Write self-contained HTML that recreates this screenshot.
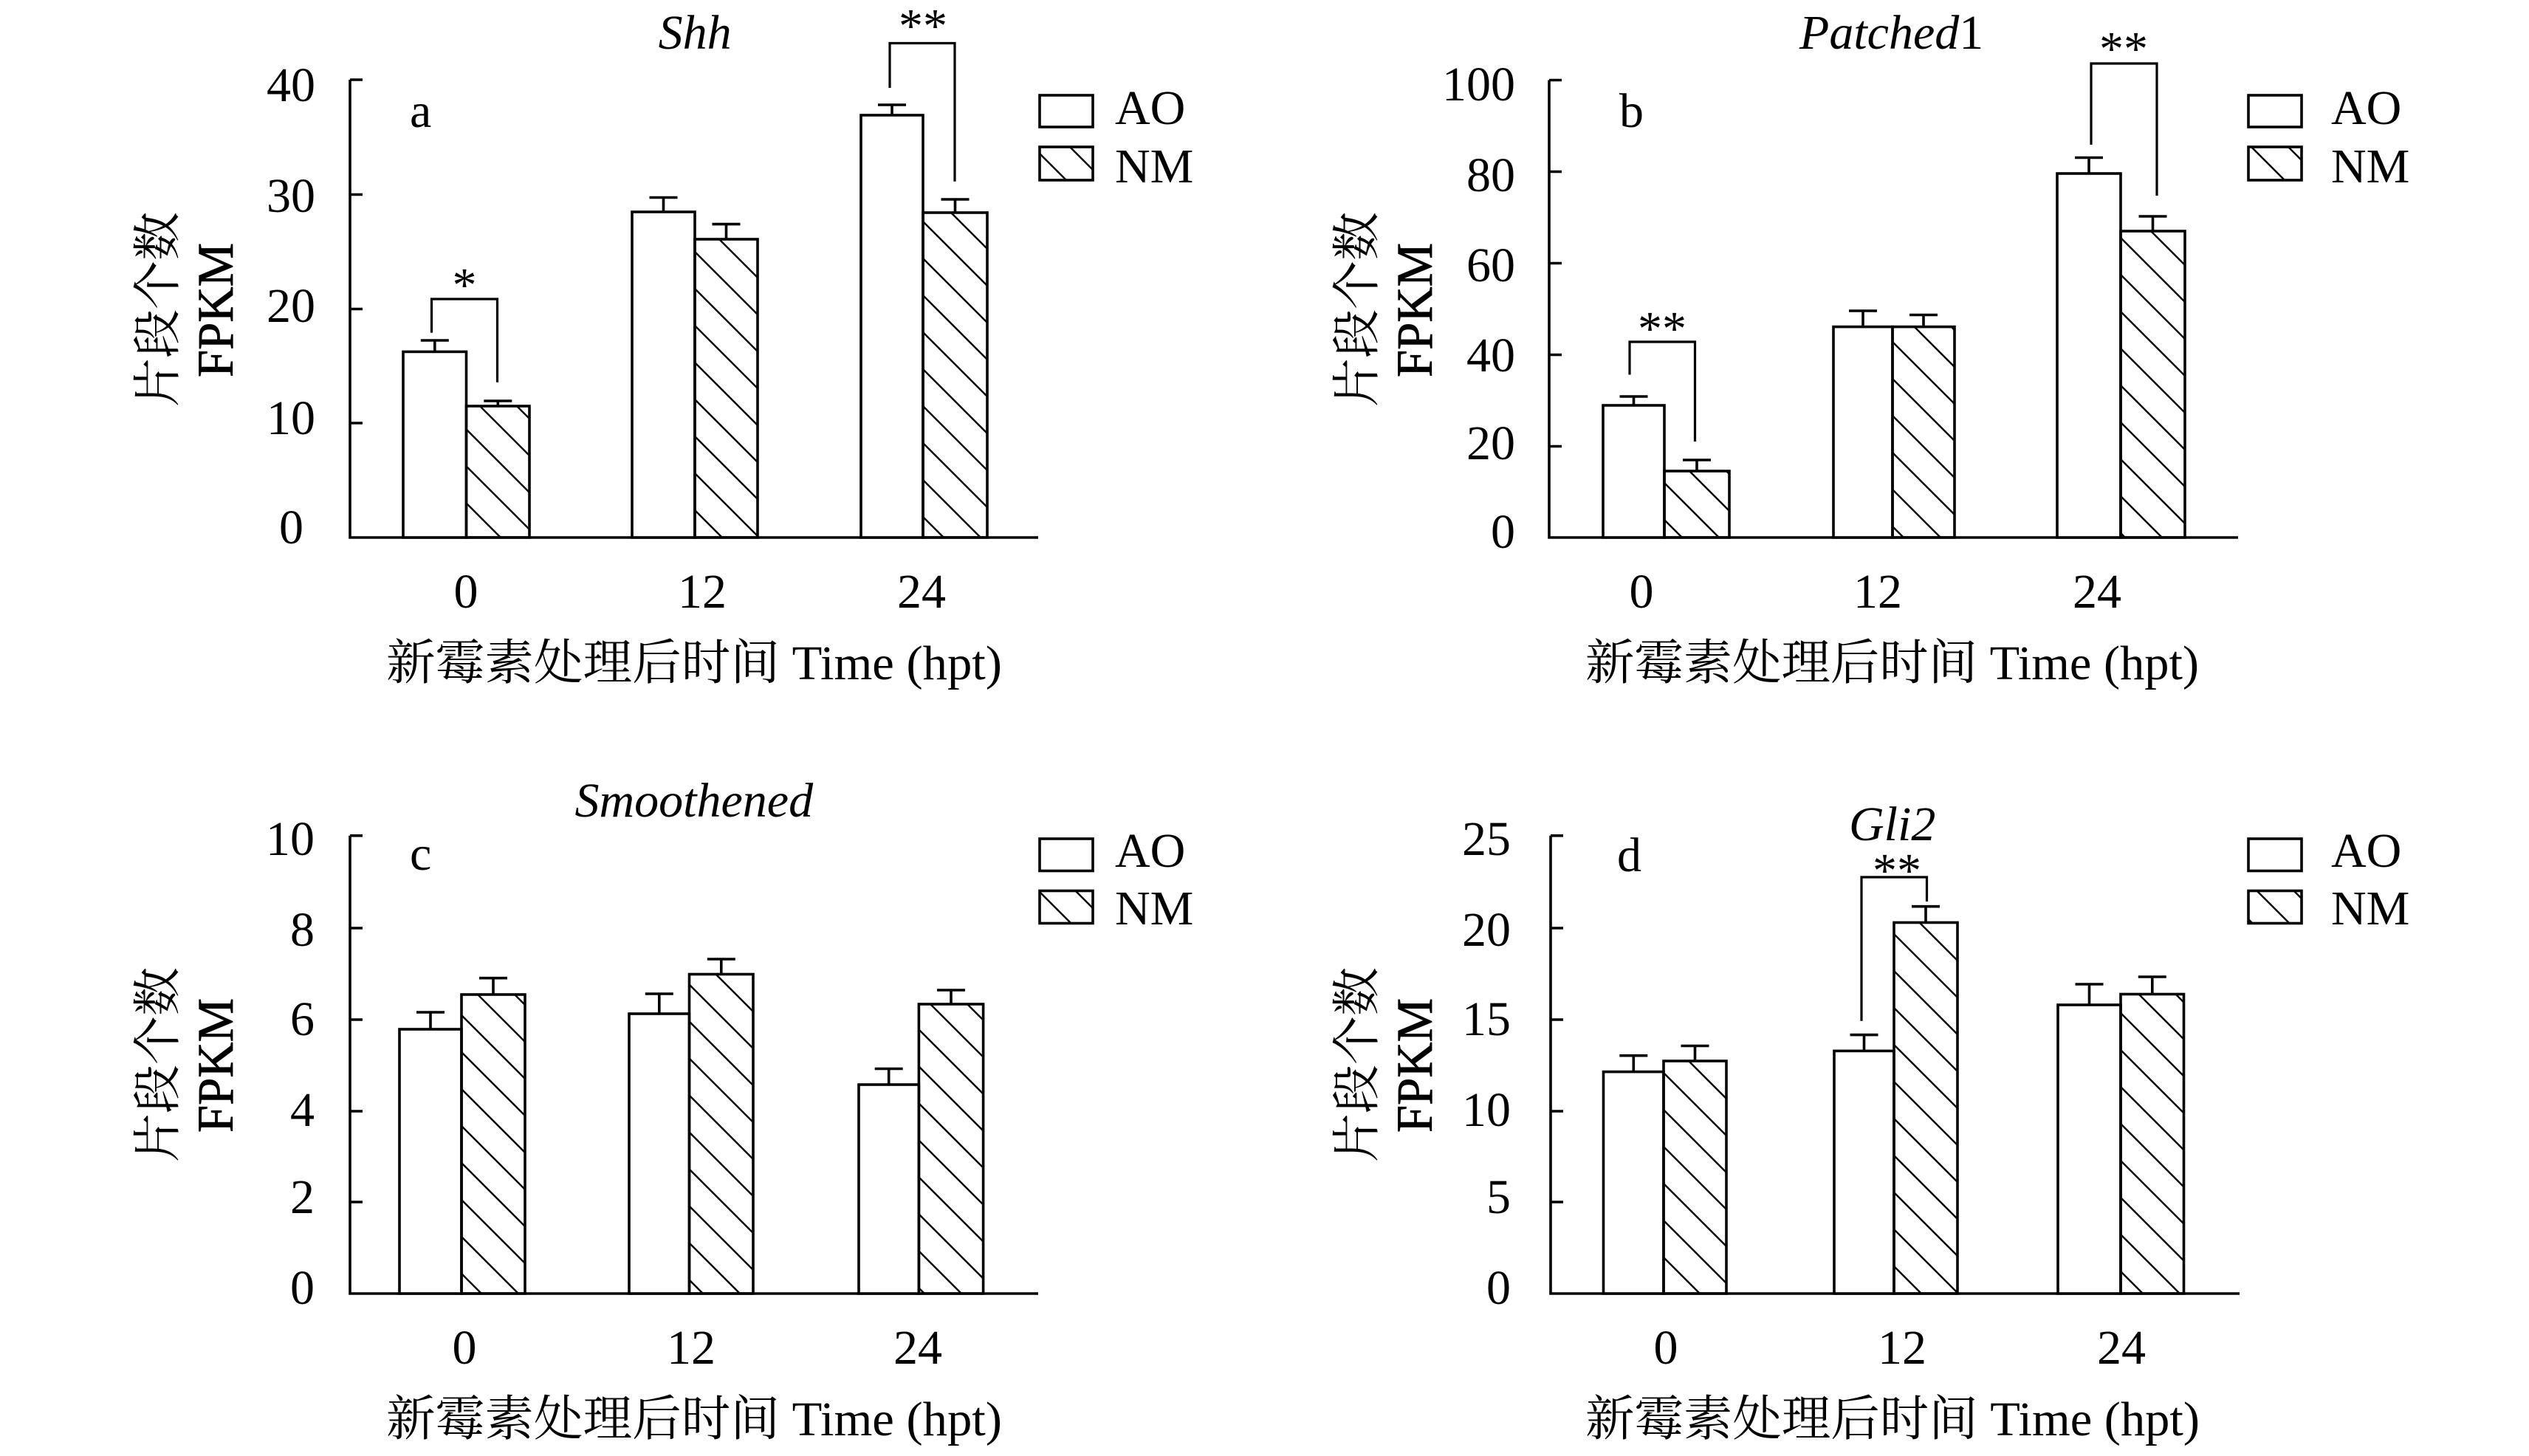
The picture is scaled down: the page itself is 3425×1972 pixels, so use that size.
<!DOCTYPE html>
<html><head><meta charset="utf-8"><style>
html,body{margin:0;padding:0;background:#fff;}
svg{display:block;}
text{font-family:"Liberation Serif","Noto Serif CJK SC",serif;fill:#000;}
</style></head><body>
<svg width="3425" height="1972" viewBox="0 0 3425 1972" xmlns="http://www.w3.org/2000/svg">
<defs>
<pattern id="h" patternUnits="userSpaceOnUse" width="50" height="50">
<path d="M-10,-10 L60,60 M-10,40 L10,60 M40,-10 L60,10" stroke="#000" stroke-width="2.4" fill="none"/>
</pattern>
</defs>
<rect width="3425" height="1972" fill="#fff"/>

<g stroke="#000" stroke-width="3.6" fill="none">
<!-- ===== Panel a ===== -->
<path d="M474,108 V728 H1406"/>
<path d="M474,108 h17 M474,263.5 h17 M474,418.5 h17 M474,573 h17"/>
<rect x="546" y="476.4" width="85.5" height="251.6" fill="#fff"/>
<rect x="631.5" y="550" width="85.5" height="178" fill="url(#h)"/>
<rect x="856" y="287" width="85" height="441" fill="#fff"/>
<rect x="941" y="324" width="85" height="404" fill="url(#h)"/>
<rect x="1166" y="156" width="84" height="572" fill="#fff"/>
<rect x="1250" y="288" width="87" height="440" fill="url(#h)"/>
<path d="M588.8,476.4 V461 M569.8,461 h38"/>
<path d="M674.3,550 V543 M655.3,543 h38"/>
<path d="M898.5,287 V267.5 M879.5,267.5 h38"/>
<path d="M983.5,324 V303.6 M964.5,303.6 h38"/>
<path d="M1208,156 V142 M1189,142 h38"/>
<path d="M1293.5,288 V270 M1274.5,270 h38"/>
<path d="M584.5,450.6 V405 H673.5 V517.7" stroke-width="3.2"/>
<path d="M1205,119 V58.5 H1293 V245.7" stroke-width="3.2"/>
<rect x="1408" y="129" width="72" height="43" fill="#fff"/>
<rect x="1408" y="199" width="72" height="45" fill="url(#h)"/>

<!-- ===== Panel b ===== -->
<path d="M2098,108.5 V728 H3031"/>
<path d="M2098,108.5 h17 M2098,232.5 h17 M2098,356.5 h17 M2098,480.5 h17 M2098,604.5 h17"/>
<rect x="2171" y="549" width="83" height="179" fill="#fff"/>
<rect x="2254" y="638" width="88" height="90" fill="url(#h)"/>
<rect x="2483" y="442.6" width="80" height="285.4" fill="#fff"/>
<rect x="2563" y="442.6" width="84" height="285.4" fill="url(#h)"/>
<rect x="2786" y="235" width="86" height="493" fill="#fff"/>
<rect x="2872" y="313" width="87" height="415" fill="url(#h)"/>
<path d="M2212.5,549 V537 M2193.5,537 h38"/>
<path d="M2298,638 V623 M2279,623 h38"/>
<path d="M2523,442.6 V421 M2504,421 h38"/>
<path d="M2605,442.6 V426.5 M2586,426.5 h38"/>
<path d="M2829,235 V213.5 M2810,213.5 h38"/>
<path d="M2915.5,313 V293 M2896.5,293 h38"/>
<path d="M2207,507.5 V463 H2295.5 V598" stroke-width="3.2"/>
<path d="M2832,196 V86 H2921 V265" stroke-width="3.2"/>
<rect x="3045" y="129" width="72" height="43" fill="#fff"/>
<rect x="3045" y="199" width="72" height="45" fill="url(#h)"/>

<!-- ===== Panel c ===== -->
<path d="M474,1131.8 V1752 H1406"/>
<path d="M474,1131.8 h17 M474,1257 h17 M474,1381 h17 M474,1505 h17 M474,1628 h17"/>
<rect x="541" y="1394" width="84" height="358" fill="#fff"/>
<rect x="625" y="1347" width="86" height="405" fill="url(#h)"/>
<rect x="852" y="1373" width="81.5" height="379" fill="#fff"/>
<rect x="933.5" y="1319.5" width="86.5" height="432.5" fill="url(#h)"/>
<rect x="1163" y="1469" width="81.4" height="283" fill="#fff"/>
<rect x="1244.4" y="1360" width="87.2" height="392" fill="url(#h)"/>
<path d="M583,1394 V1371 M564,1371 h38"/>
<path d="M668,1347 V1324.7 M649,1324.7 h38"/>
<path d="M892.8,1373 V1346 M873.8,1346 h38"/>
<path d="M976.8,1319.5 V1299 M957.8,1299 h38"/>
<path d="M1203.7,1469 V1447.5 M1184.7,1447.5 h38"/>
<path d="M1288,1360 V1341 M1269,1341 h38"/>
<rect x="1408" y="1136" width="72" height="43.5" fill="#fff"/>
<rect x="1408" y="1206.5" width="72" height="44" fill="url(#h)"/>

<!-- ===== Panel d ===== -->
<path d="M2100,1131.8 V1752 H3033"/>
<path d="M2100,1131.8 h17 M2100,1257 h17 M2100,1381 h17 M2100,1505 h17 M2100,1628 h17"/>
<rect x="2171.5" y="1451.6" width="81.5" height="300.4" fill="#fff"/>
<rect x="2253" y="1437" width="85" height="315" fill="url(#h)"/>
<rect x="2484" y="1423.4" width="81" height="328.6" fill="#fff"/>
<rect x="2565" y="1249.5" width="86" height="502.5" fill="url(#h)"/>
<rect x="2787" y="1361" width="85" height="391" fill="#fff"/>
<rect x="2872" y="1346.5" width="85.5" height="405.5" fill="url(#h)"/>
<path d="M2212.3,1451.6 V1429.7 M2193.3,1429.7 h38"/>
<path d="M2295.5,1437 V1416.5 M2276.5,1416.5 h38"/>
<path d="M2524.5,1423.4 V1401.6 M2505.5,1401.6 h38"/>
<path d="M2608,1249.5 V1227.7 M2589,1227.7 h38"/>
<path d="M2829.5,1361 V1333 M2810.5,1333 h38"/>
<path d="M2914.8,1346.5 V1323 M2895.8,1323 h38"/>
<path d="M2521,1382.7 V1188 H2609.5 V1221" stroke-width="3.2"/>
<rect x="3045" y="1136" width="72" height="43.5" fill="#fff"/>
<rect x="3045" y="1206.5" width="72" height="44" fill="url(#h)"/>
</g>

<g font-size="66">
<!-- Panel a text -->
<text x="891.6" y="66" font-style="italic">Shh</text>
<text x="555" y="172">a</text>
<text x="427" y="137" text-anchor="end">40</text>
<text x="427" y="287" text-anchor="end">30</text>
<text x="427" y="436" text-anchor="end">20</text>
<text x="427" y="588" text-anchor="end">10</text>
<text x="394.5" y="736" text-anchor="middle">0</text>
<text x="631" y="823" text-anchor="middle">0</text>
<text x="951" y="823" text-anchor="middle">12</text>
<text x="1248" y="823" text-anchor="middle">24</text>
<text x="523" y="920" textLength="834" lengthAdjust="spacingAndGlyphs">新霉素处理后时间 Time (hpt)</text>
<text transform="translate(236,419) rotate(-90)" text-anchor="middle">片段个数</text>
<text transform="translate(315,420) rotate(-90)" text-anchor="middle" font-size="69" textLength="182" lengthAdjust="spacingAndGlyphs" stroke="#000" stroke-width="0.8">FPKM</text>
<text x="629" y="408" text-anchor="middle">*</text>
<text x="1250" y="57" text-anchor="middle">**</text>
<text x="1510" y="168">AO</text>
<text x="1510" y="247">NM</text>

<!-- Panel b text -->
<text x="2437" y="66"><tspan font-style="italic">Patched</tspan>1</text>
<text x="2193" y="172">b</text>
<text x="2052" y="136" text-anchor="end">100</text>
<text x="2052" y="259" text-anchor="end">80</text>
<text x="2052" y="381" text-anchor="end">60</text>
<text x="2052" y="503" text-anchor="end">40</text>
<text x="2052" y="622" text-anchor="end">20</text>
<text x="2052" y="742" text-anchor="end">0</text>
<text x="2223" y="823" text-anchor="middle">0</text>
<text x="2543" y="823" text-anchor="middle">12</text>
<text x="2840" y="823" text-anchor="middle">24</text>
<text x="2147" y="920" textLength="831" lengthAdjust="spacingAndGlyphs">新霉素处理后时间 Time (hpt)</text>
<text transform="translate(1860,419) rotate(-90)" text-anchor="middle">片段个数</text>
<text transform="translate(1939,420) rotate(-90)" text-anchor="middle" font-size="69" textLength="182" lengthAdjust="spacingAndGlyphs" stroke="#000" stroke-width="0.8">FPKM</text>
<text x="2251" y="467" text-anchor="middle">**</text>
<text x="2876" y="88" text-anchor="middle">**</text>
<text x="3157" y="168">AO</text>
<text x="3157" y="247">NM</text>

<!-- Panel c text -->
<text x="778.5" y="1106" font-style="italic">Smoothened</text>
<text x="555" y="1178">c</text>
<text x="426" y="1158" text-anchor="end">10</text>
<text x="426" y="1281" text-anchor="end">8</text>
<text x="426" y="1402" text-anchor="end">6</text>
<text x="426" y="1525" text-anchor="end">4</text>
<text x="426" y="1643" text-anchor="end">2</text>
<text x="426" y="1766" text-anchor="end">0</text>
<text x="629" y="1847" text-anchor="middle">0</text>
<text x="936" y="1847" text-anchor="middle">12</text>
<text x="1243" y="1847" text-anchor="middle">24</text>
<text x="523" y="1944" textLength="834" lengthAdjust="spacingAndGlyphs">新霉素处理后时间 Time (hpt)</text>
<text transform="translate(236,1442) rotate(-90)" text-anchor="middle">片段个数</text>
<text transform="translate(315,1443) rotate(-90)" text-anchor="middle" font-size="69" textLength="182" lengthAdjust="spacingAndGlyphs" stroke="#000" stroke-width="0.8">FPKM</text>
<text x="1510" y="1174">AO</text>
<text x="1510" y="1252">NM</text>

<!-- Panel d text -->
<text x="2504" y="1138" font-style="italic">Gli2</text>
<text x="2190" y="1180">d</text>
<text x="2046" y="1158" text-anchor="end">25</text>
<text x="2046" y="1281" text-anchor="end">20</text>
<text x="2046" y="1402" text-anchor="end">15</text>
<text x="2046" y="1525" text-anchor="end">10</text>
<text x="2046" y="1643" text-anchor="end">5</text>
<text x="2046" y="1766" text-anchor="end">0</text>
<text x="2256" y="1847" text-anchor="middle">0</text>
<text x="2576" y="1847" text-anchor="middle">12</text>
<text x="2873" y="1847" text-anchor="middle">24</text>
<text x="2147" y="1944" textLength="832" lengthAdjust="spacingAndGlyphs">新霉素处理后时间 Time (hpt)</text>
<text transform="translate(1860,1442) rotate(-90)" text-anchor="middle">片段个数</text>
<text transform="translate(1939,1443) rotate(-90)" text-anchor="middle" font-size="69" textLength="182" lengthAdjust="spacingAndGlyphs" stroke="#000" stroke-width="0.8">FPKM</text>
<text x="2569" y="1201" text-anchor="middle">**</text>
<text x="3157" y="1174">AO</text>
<text x="3157" y="1252">NM</text>
</g>
</svg>
</body></html>
